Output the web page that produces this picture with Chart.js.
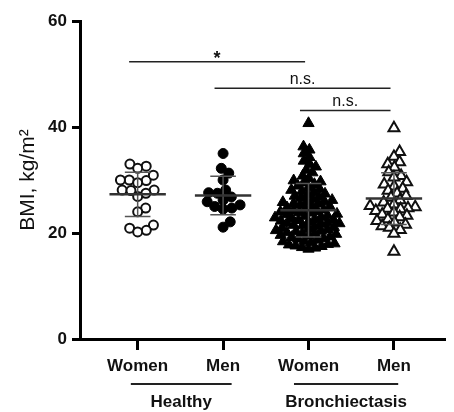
<!DOCTYPE html>
<html>
<head>
<meta charset="utf-8">
<script src="https://cdn.jsdelivr.net/npm/chart.js@4.4.1/dist/chart.umd.min.js"></script>
<style>
    html, body { margin: 0; padding: 0; background: #fff; }
    #wrap { width: 454px; height: 412px; }
</style>
</head>
<body>
<div id="wrap"><canvas id="Chart"></canvas></div>
<script>
var categories = ["Women", "Men", "Women", "Men"];
var groups = ["Healthy", "Bronchiectasis"];
var yTicks = [0, 20, 40, 60];

// BMI values, one array per column
var healthyWomen = [30.0, 29.9, 30.0, 30.9, 32.6, 33.0, 32.2, 29.5, 28.1, 28.0, 28.1, 27.5, 26.9, 24.7, 24.0, 21.5, 20.9, 20.5, 20.2];
var healthyMen = [35.0, 32.2, 31.3, 30.0, 28.1, 27.5, 27.6, 26.8, 25.9, 24.7, 25.0, 25.3, 26.2, 22.1, 21.1, 24.5];
var bronchWomen = [17.0, 17.2, 17.3, 17.5, 17.6, 17.8, 17.9, 18.0,
    18.2, 18.4, 18.5, 18.7, 18.9, 19.0, 19.2, 19.3, 19.5, 19.6, 19.8, 19.9,
    20.0, 20.1, 20.3, 20.4, 20.5, 20.7, 20.8, 21.0, 21.1, 21.3, 21.4, 21.5, 21.7, 21.8, 21.9,
    22.0, 22.1, 22.3, 22.4, 22.5, 22.6, 22.8, 22.9, 23.0, 23.2, 23.3, 23.5, 23.6, 23.8, 23.9,
    24.0, 24.1, 24.3, 24.4, 24.6, 24.8, 25.0, 25.1, 25.3, 25.5, 25.6, 25.8, 25.9,
    26.0, 26.2, 26.4, 26.6, 26.8, 27.0, 27.2, 27.4, 27.7, 27.9,
    28.1, 28.3, 28.6, 28.9, 29.2, 29.5, 29.7, 29.9,
    30.3, 30.8, 31.4, 31.9, 32.5, 33.0,
    33.6, 34.3, 35.0, 35.7, 36.3, 40.7];
var bronchMen = [39.8, 35.3, 34.4, 33.4, 33.0, 32.4, 31.5, 30.8, 30.5, 29.6, 29.2, 28.8, 28.4, 28.0, 27.5,
    27.0, 26.7, 26.2, 25.8, 25.4, 25.1, 24.9, 24.7, 24.6, 24.5, 24.2, 23.9, 23.5, 23.3, 23.0,
    22.6, 22.3, 22.0, 21.6, 21.3, 21.0, 20.6, 19.9, 16.5];

var comparisons = [
    { from: 0, to: 2, label: "*" },
    { from: 1, to: 3, label: "n.s." },
    { from: 2, to: 3, label: "n.s." }
];

// spread points sideways like a beeswarm (d = spacing in px)
function swarm(values, d) {
    var pxX = 87.4, pxY = 5.3;
    var order = values.map(function (v, i) { return i; })
        .sort(function (a, b) { return values[a] - values[b]; });
    var placed = [], out = [];
    order.forEach(function (i) {
        var y = values[i] * pxY;
        var near = placed.filter(function (p) { return Math.abs(p.y - y) < d; });
        var cands = [0];
        near.forEach(function (p) {
            var dx = Math.sqrt(d * d - (p.y - y) * (p.y - y));
            cands.push(p.x + dx + 0.01, p.x - dx - 0.01);
        });
        cands.sort(function (a, b) { return Math.abs(a) - Math.abs(b); });
        var x = cands.find(function (c) {
            return near.every(function (p) {
                return (p.x - c) * (p.x - c) + (p.y - y) * (p.y - y) >= d * d - 0.1;
            });
        });
        placed.push({ x: x, y: y });
        out[i] = x / pxX;
    });
    return out;
}

function points(values, idx, d) {
    var off = swarm(values, d);
    return values.map(function (v, i) { return { x: idx + off[i], y: v }; });
}

function stats(values) {
    var m = values.reduce(function (a, b) { return a + b; }, 0) / values.length;
    var s = Math.sqrt(values.reduce(function (a, b) { return a + (b - m) * (b - m); }, 0) / (values.length - 1));
    return { m: m, s: s };
}

function meanLine(values, idx) {
    var st = stats(values);
    return {
        type: 'line', data: [{ x: idx - 0.33, y: st.m }, { x: idx + 0.33, y: st.m }],
        borderColor: '#333', borderWidth: 2.5, pointRadius: 0, order: 0
    };
}

function sdBar(values, idx) {
    var st = stats(values), w = 0.15;
    return {
        type: 'line', spanGaps: false,
        data: [{ x: idx - w, y: st.m + st.s }, { x: idx + w, y: st.m + st.s }, { x: idx + w, y: null },
            { x: idx, y: st.m + st.s }, { x: idx, y: st.m - st.s }, { x: idx, y: null },
            { x: idx - w, y: st.m - st.s }, { x: idx + w, y: st.m - st.s }],
        borderColor: '#555', borderWidth: 1.5, pointRadius: 0, order: 0
    };
}

var allSeries = [healthyWomen, healthyMen, bronchWomen, bronchMen];

var groupPlugin = {
    id: 'extras',
    afterDraw: function (chart) {
        var ctx = chart.ctx, x = chart.scales.x, y = chart.scales.y;
        var bottom = chart.chartArea.bottom;
        ctx.save();
        ctx.strokeStyle = '#222';
        ctx.fillStyle = '#111';
        // comparison bars
        var levels = [52.3, 47.3, 43.1];
        comparisons.forEach(function (c, i) {
            var x1 = x.getPixelForValue(c.from - 0.1), x2 = x.getPixelForValue(c.to - 0.04);
            var yy = y.getPixelForValue(levels[i]);
            ctx.lineWidth = 1.5;
            ctx.beginPath(); ctx.moveTo(x1, yy); ctx.lineTo(x2, yy); ctx.stroke();
            ctx.font = c.label === '*' ? 'bold 18px "Liberation Sans", Arial' : '16px "Liberation Sans", Arial';
            ctx.textAlign = 'center';
            ctx.textBaseline = 'bottom';
            ctx.fillText(c.label, (x1 + x2) / 2, yy + (c.label === '*' ? 6 : -1));
        });
        // group labels under the categories
        var spans = [[-0.08, 1.1], [1.83, 3.05]];
        groups.forEach(function (g, i) {
            var x1 = x.getPixelForValue(spans[i][0]), x2 = x.getPixelForValue(spans[i][1]);
            ctx.lineWidth = 2;
            ctx.beginPath(); ctx.moveTo(x1, bottom + 45); ctx.lineTo(x2, bottom + 45); ctx.stroke();
            ctx.font = 'bold 17px "Liberation Sans", Arial';
            ctx.textAlign = 'center';
            ctx.textBaseline = 'middle';
            ctx.fillText(g, (x1 + x2) / 2, bottom + 63);
        });
        ctx.restore();
    }
};

new Chart(document.getElementById("Chart"), {
    type: 'scatter',
    data: {
        datasets: [
            { data: points(healthyWomen, 0, 9), pointStyle: 'circle', pointRadius: 4.5, borderWidth: 2,
                borderColor: '#111', backgroundColor: '#fff', order: 1 },
            { data: points(healthyMen, 1, 9), pointStyle: 'circle', pointRadius: 5, borderWidth: 1,
                borderColor: '#000', backgroundColor: '#000', order: 1 },
            { data: points(bronchWomen, 2, 6.8), pointStyle: 'triangle', pointRadius: 6.5, borderWidth: 1,
                borderColor: '#000', backgroundColor: '#000', order: 1 },
            { data: points(bronchMen, 3, 7.5), pointStyle: 'triangle', pointRadius: 6.3, borderWidth: 2,
                borderColor: '#111', backgroundColor: '#fff', order: 1 }
        ].concat(allSeries.map(meanLine), allSeries.map(sdBar))
    },
    options: {
        responsive: true,
        maintainAspectRatio: false,
        animation: false,
        layout: { padding: { top: 21, right: 0, bottom: 0, left: 0 } },
        plugins: { legend: { display: false }, tooltip: { enabled: false } },
        scales: {
            x: {
                type: 'linear', min: -0.675, max: 3.606,
                afterBuildTicks: function (s) { s.ticks = categories.map(function (c, i) { return { value: i }; }); },
                afterFit: function (s) { s.height = 73; },
                ticks: {
                    color: '#111', padding: 6,
                    font: { family: '"Liberation Sans", Arial', size: 17, weight: 'bold' },
                    callback: function (v) { return categories[v]; }
                },
                grid: { drawOnChartArea: false, tickLength: 11, tickWidth: 3, tickColor: '#000' },
                border: { color: '#000', width: 3 }
            },
            y: {
                min: 0, max: 60,
                afterBuildTicks: function (s) { s.ticks = yTicks.map(function (v) { return { value: v }; }); },
                afterFit: function (s) { s.width = 80; },
                ticks: {
                    color: '#111', padding: 5,
                    font: { family: '"Liberation Sans", Arial', size: 17, weight: 'bold' }
                },
                grid: { drawOnChartArea: false, tickLength: 8, tickWidth: 3, tickColor: '#000' },
                border: { color: '#000', width: 3 },
                title: {
                    display: true, text: 'BMI, kg/m²', color: '#111',
                    font: { family: '"Liberation Sans", Arial', size: 21 },
                    padding: { top: 16, bottom: 0 }
                }
            }
        }
    },
    plugins: [groupPlugin]
});
</script>
</body>
</html>
